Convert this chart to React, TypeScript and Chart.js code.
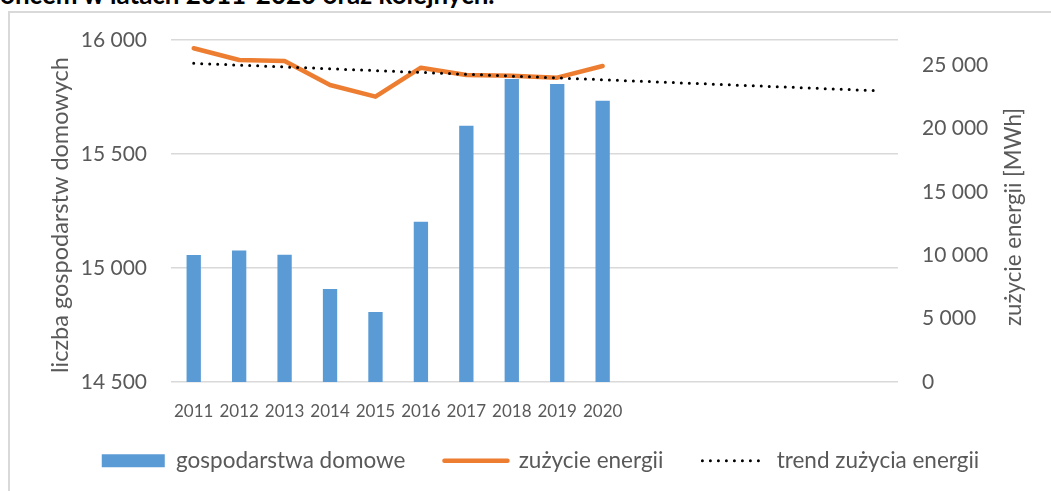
import React, { useEffect, useRef } from 'react';
import { Chart, registerables } from 'chart.js';

Chart.register(...registerables);

// ---- data ----
const years = ['2011', '2012', '2013', '2014', '2015', '2016', '2017', '2018', '2019', '2020'];
const trendYears = ['2021', '2022', '2023', '2024', '2025', '2026'];
const households = [15057, 15077, 15058, 14908, 14807, 15203, 15624, 15829, 15807, 15734];
const energyMWh = [26345, 25422, 25343, 23448, 22525, 24814, 24237, 24183, 24024, 24948];
const trendStartMWh = 25160; // trend value at 2011
const trendEndMWh = 23000; // trend value at 2026
const leftTicks = [14500, 15000, 15500, 16000];
const rightTicks = [0, 5000, 10000, 15000, 20000, 25000];
const rightAxisMax = 27000;

const seriesNames = ['gospodarstwa domowe', 'zużycie energii', 'trend zużycia energii'];
const leftTitle = 'liczba gospodarstw domowych';
const rightTitle = 'zużycie energii [MWh]';
const headerText = 'ońcem w latach 2011-2020 oraz kolejnych.';

const TEXT = '#595959';
const FONT = 'Lato';

const fmt = (v: number) => String(v).replace(/\B(?=(\d{3})+(?!\d))/g, ' ');

// axis titles drawn rotated (both read bottom-to-top, as in the reference)
const axisTitlesPlugin = {
  id: 'axisTitles',
  afterDraw(chart: any) {
    const ctx = chart.ctx;
    const ca = chart.chartArea;
    const midY = (ca.top + ca.bottom) / 2;
    const draw = (text: string, x: number, y: number, size: number) => {
      ctx.save();
      ctx.translate(x, y);
      ctx.rotate(-Math.PI / 2);
      ctx.font = `${size}px ${FONT}`;
      ctx.fillStyle = TEXT;
      ctx.textAlign = 'center';
      ctx.textBaseline = 'middle';
      ctx.fillText(text, 0, 0);
      ctx.restore();
    };
    draw(leftTitle, chart.scales.y.left + 30, midY + 4, 23.5);
    draw(rightTitle, chart.scales.y1.right - 37, midY + 6, 22.3);
  },
};

// place the legend a little closer to the axis and give the x labels room
const layoutTweakPlugin = {
  id: 'layoutTweak',
  afterLayout(chart: any) {
    const l = chart.legend;
    if (l) {
      l.top -= 9;
      l.bottom -= 9;
    }
    const x = chart.scales.x;
    if (x) x.bottom = x.top + 50;
  },
};

export default function App() {
  const ref = useRef<HTMLCanvasElement>(null);

  useEffect(() => {
    if (!ref.current) return;
    const labels = [...years, ...trendYears];
    const trendData = labels.map((_, i) =>
      i === 0 ? trendStartMWh : i === labels.length - 1 ? trendEndMWh : null
    );
    const chart = new Chart(ref.current, {
      type: 'bar',
      data: {
        labels,
        datasets: [
          {
            type: 'bar',
            label: seriesNames[0],
            data: households,
            backgroundColor: '#5b9bd5',
            borderWidth: 0,
            yAxisID: 'y',
            categoryPercentage: 1,
            barPercentage: 0.315,
            order: 3,
            pointStyle: 'rect',
          } as any,
          {
            type: 'line',
            label: seriesNames[1],
            data: energyMWh,
            borderColor: '#ed7d31',
            backgroundColor: '#ed7d31',
            borderWidth: 4.5,
            borderCapStyle: 'round',
            borderJoinStyle: 'round',
            pointRadius: 0,
            tension: 0,
            yAxisID: 'y1',
            order: 2,
            pointStyle: 'line',
          } as any,
          {
            type: 'line',
            label: seriesNames[2],
            data: trendData,
            borderColor: '#000000',
            backgroundColor: '#000000',
            borderWidth: 3,
            borderDash: [0, 8],
            borderCapStyle: 'round',
            pointRadius: 0,
            spanGaps: true,
            tension: 0,
            yAxisID: 'y1',
            order: 1,
            pointStyle: 'line',
          } as any,
        ],
      },
      options: {
        responsive: false,
        animation: false,
        layout: { padding: { left: 30, right: 0, top: 40, bottom: 0 } },
        plugins: {
          tooltip: { enabled: false },
          legend: {
            position: 'bottom',
            labels: {
              usePointStyle: true,
              pointStyleWidth: 63,
              boxHeight: 13,
              padding: 39,
              color: TEXT,
              font: { family: FONT, size: 22.5 },
              sort: (a: any, b: any) => a.datasetIndex - b.datasetIndex,
              generateLabels: (chart: any) => {
                const items = (Chart.defaults.plugins.legend.labels as any).generateLabels(chart);
                return items.map((it: any) => {
                  const ds = chart.data.datasets[it.datasetIndex];
                  if (ds.borderDash) it.lineDash = ds.borderDash;
                  if (ds.borderCapStyle) it.lineCap = ds.borderCapStyle;
                  return it;
                });
              },
            },
          },
        },
        scales: {
          x: {
            grid: { display: false },
            border: { display: false },
            ticks: {
              autoSkip: false,
              maxRotation: 0,
              padding: 11,
              color: TEXT,
              font: { family: FONT, size: 17 },
              callback: (_v: any, i: number) => (i < years.length ? years[i] : ''),
            },
            afterFit: (s: any) => { s.height = 37.5; },
          },
          y: {
            position: 'left',
            min: leftTicks[0],
            max: leftTicks[leftTicks.length - 1],
            afterBuildTicks: (s: any) => { s.ticks = leftTicks.map((v) => ({ value: v })); },
            grid: { color: '#d9d9d9', lineWidth: 1.5, drawTicks: false },
            border: { display: false },
            ticks: {
              padding: 24,
              color: TEXT,
              font: { family: FONT, size: 21 },
              callback: (v: any) => fmt(v),
            },
            afterFit: (s: any) => { s.width = 141; },
          },
          y1: {
            position: 'right',
            min: 0,
            max: rightAxisMax,
            afterBuildTicks: (s: any) => { s.ticks = rightTicks.map((v) => ({ value: v })); },
            grid: { display: false, drawTicks: false },
            border: { display: false },
            ticks: {
              padding: 24,
              color: TEXT,
              font: { family: FONT, size: 21 },
              callback: (v: any) => fmt(v),
            },
            afterFit: (s: any) => { s.width = 153; },
          },
        },
      } as any,
      plugins: [axisTitlesPlugin, layoutTweakPlugin],
    });
    return () => chart.destroy();
  }, []);

  return (
    <div style={{ position: 'fixed', inset: 0, overflow: 'hidden', background: '#fff' }}>
      <div
        style={{
          position: 'absolute',
          left: 0,
          top: -22,
          font: `bold 26px ${FONT}`,
          lineHeight: '32px',
          whiteSpace: 'nowrap',
          color: '#000',
        }}
      >
        {headerText}
      </div>
      <div
        style={{
          position: 'absolute',
          left: 8,
          top: 11,
          width: 1200,
          height: 600,
          border: '2px solid #d9d9d9',
        }}
      />
      <canvas
        ref={ref}
        width={1051}
        height={491}
        style={{ position: 'absolute', left: 0, top: 0, width: 1051, height: 491 }}
      />
    </div>
  );
}
